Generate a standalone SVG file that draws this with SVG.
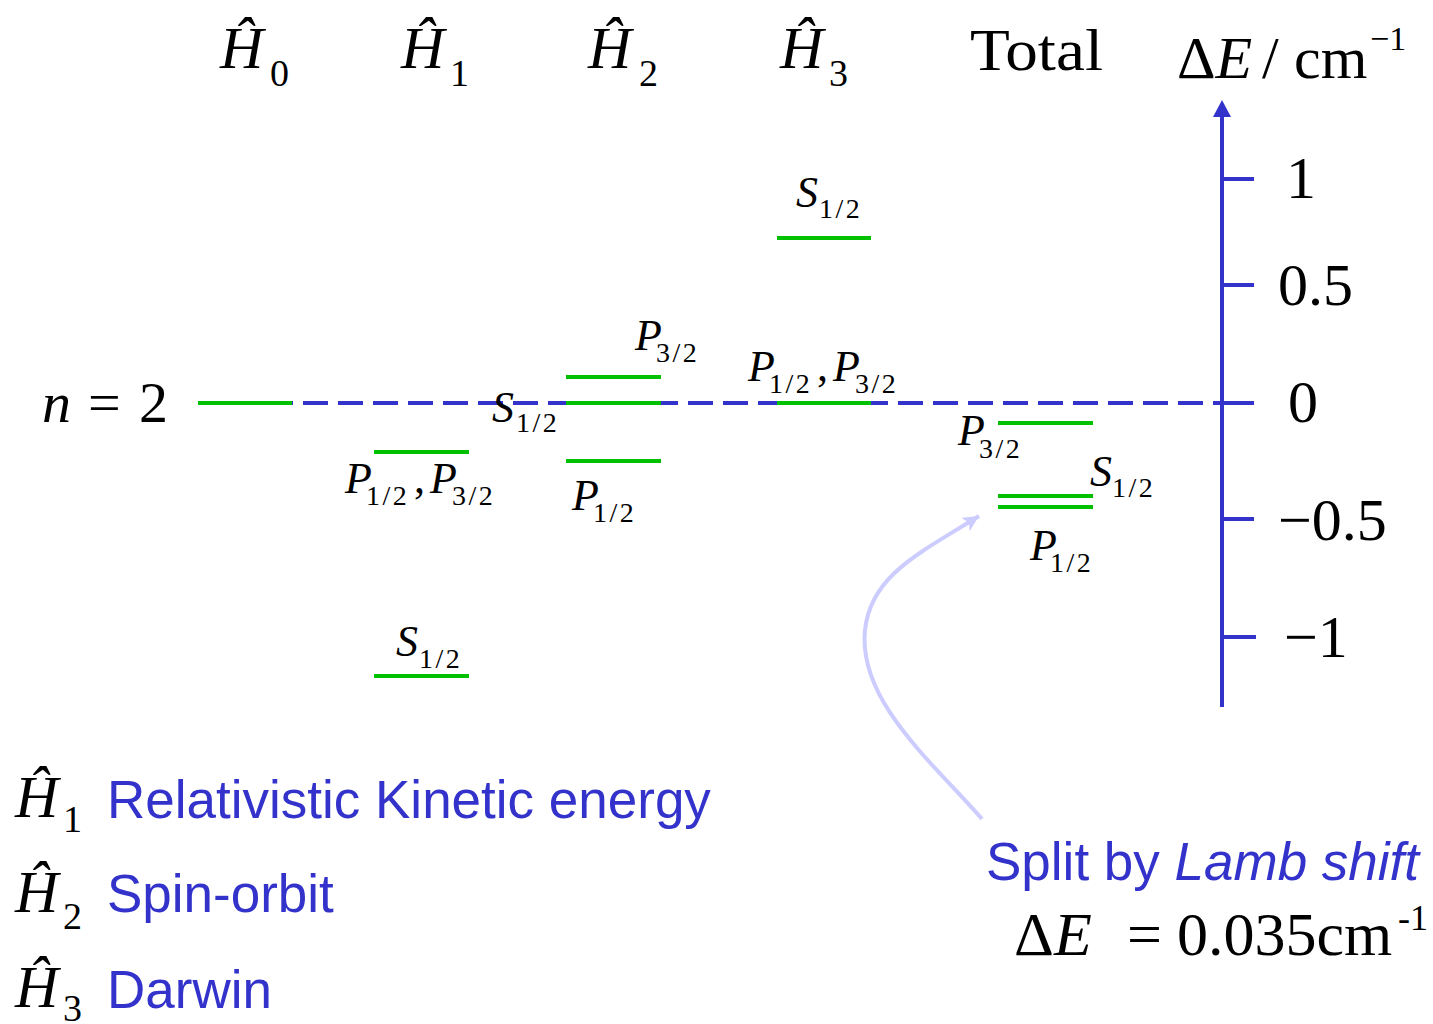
<svg xmlns="http://www.w3.org/2000/svg" width="1433" height="1024" viewBox="0 0 1433 1024">
<style>
.serif{font-family:"Liberation Serif","Times New Roman",serif;fill:#000}
.it{font-style:italic}
.hd{font-size:60px}
.sub{font-size:38px;font-style:normal}
.lv{font-family:"Liberation Serif","Times New Roman",serif;font-size:44px;fill:#000}
.ls{font-size:28px;font-style:normal;letter-spacing:2.5px}
.sans{font-family:"Liberation Sans",Arial,sans-serif;font-size:53px;fill:#3333cc}
.lev{stroke:#00c000;stroke-width:4;fill:none}
.ax{stroke:#3333cc;stroke-width:4;fill:none}
</style>
<defs>
<marker id="lamb" markerUnits="userSpaceOnUse" markerWidth="20" markerHeight="20" refX="16" refY="8" orient="auto">
<path d="M0,0 L16,8 L0,16 L4,8 Z" fill="#ccccff"/>
</marker>
</defs>
<rect width="1433" height="1024" fill="#fff"/>

<g id="headers" class="serif hd">
<text x="220" y="68"><tspan class="it">Ĥ</tspan><tspan class="sub" x="270" y="86">0</tspan></text>
<text x="401" y="68"><tspan class="it">Ĥ</tspan><tspan class="sub" x="450" y="86">1</tspan></text>
<text x="588" y="68"><tspan class="it">Ĥ</tspan><tspan class="sub" x="639" y="86">2</tspan></text>
<text x="780" y="68"><tspan class="it">Ĥ</tspan><tspan class="sub" x="829" y="86">3</tspan></text>
<text x="970" y="70" textLength="133" lengthAdjust="spacingAndGlyphs">Total</text>
<text x="1177" y="78">Δ<tspan class="it">E</tspan><tspan x="1262">/</tspan><tspan x="1294">cm</tspan><tspan font-size="34" x="1370" y="50">−1</tspan></text>
</g>

<g id="axis">
<line class="ax" x1="1222" y1="114" x2="1222" y2="707"/>
<polygon points="1222,100 1213,117 1231,117" fill="#3333cc"/>
<line class="ax" x1="1222" y1="179" x2="1254" y2="179"/>
<line class="ax" x1="1222" y1="285" x2="1254" y2="285"/>
<line class="ax" x1="1222" y1="403" x2="1254" y2="403"/>
<line class="ax" x1="1222" y1="519" x2="1254" y2="519"/>
<line class="ax" x1="1222" y1="637" x2="1256" y2="637"/>
<g class="serif hd">
<text x="1286" y="198">1</text>
<text x="1278" y="305">0.5</text>
<text x="1288" y="422">0</text>
<text x="1278" y="540">−0.5</text>
<text x="1284" y="657">−1</text>
</g>
</g>

<g id="connectors">
<line x1="198" y1="403" x2="1222" y2="403" stroke="#3333cc" stroke-width="4" stroke-dasharray="25 10"/>
<path d="M982,819 C930,760 858,700 865,630 C871,575 920,553 979,516" fill="none" stroke="#ccccff" stroke-width="4" marker-end="url(#lamb)"/>
</g>

<g id="n2">
<text class="serif" font-size="58" x="42" y="422"><tspan class="it">n</tspan><tspan x="88">=</tspan><tspan x="139">2</tspan></text>
<line class="lev" x1="198" y1="403" x2="292" y2="403"/>
</g>

<g id="H1-levels">
<line class="lev" x1="374" y1="452" x2="469" y2="452"/>
<text class="lv" x="345" y="493"><tspan class="it">P</tspan><tspan class="ls" x="366" y="505">1/2</tspan><tspan x="414" y="493">,</tspan><tspan class="it" x="430">P</tspan><tspan class="ls" x="452" y="505">3/2</tspan></text>
<line class="lev" x1="374" y1="676" x2="469" y2="676"/>
<text class="lv" x="396" y="656"><tspan class="it">S</tspan><tspan class="ls" x="419" y="668">1/2</tspan></text>
</g>

<g id="H2-levels">
<line class="lev" x1="566" y1="377" x2="661" y2="377"/>
<line class="lev" x1="566" y1="403" x2="661" y2="403"/>
<line class="lev" x1="566" y1="461" x2="661" y2="461"/>
<text class="lv" x="635" y="350"><tspan class="it">P</tspan><tspan class="ls" x="656" y="362">3/2</tspan></text>
<text class="lv" x="492" y="422"><tspan class="it">S</tspan><tspan class="ls" x="516" y="432">1/2</tspan></text>
<text class="lv" x="572" y="510"><tspan class="it">P</tspan><tspan class="ls" x="593" y="522">1/2</tspan></text>
</g>

<g id="H3-levels">
<line class="lev" x1="777" y1="238" x2="871" y2="238"/>
<text class="lv" x="796" y="207"><tspan class="it">S</tspan><tspan class="ls" x="819" y="218">1/2</tspan></text>
<line class="lev" x1="777" y1="403" x2="871" y2="403"/>
<text class="lv" x="748" y="381"><tspan class="it">P</tspan><tspan class="ls" x="769" y="393">1/2</tspan><tspan x="817" y="381">,</tspan><tspan class="it" x="833">P</tspan><tspan class="ls" x="855" y="393">3/2</tspan></text>
</g>

<g id="Total-levels">
<line class="lev" x1="998" y1="423" x2="1093" y2="423"/>
<line class="lev" x1="998" y1="496" x2="1093" y2="496"/>
<line class="lev" x1="998" y1="507" x2="1093" y2="507"/>
<text class="lv" x="958" y="445"><tspan class="it">P</tspan><tspan class="ls" x="979" y="458">3/2</tspan></text>
<text class="lv" x="1090" y="486"><tspan class="it">S</tspan><tspan class="ls" x="1112" y="497">1/2</tspan></text>
<text class="lv" x="1030" y="560"><tspan class="it">P</tspan><tspan class="ls" x="1050" y="572">1/2</tspan></text>
</g>

<g id="legend">
<text class="serif hd" x="15" y="817"><tspan class="it">Ĥ</tspan><tspan class="sub" x="63" y="832">1</tspan></text>
<text class="sans" x="107" y="818">Relativistic Kinetic energy</text>
<text class="serif hd" x="15" y="912"><tspan class="it">Ĥ</tspan><tspan class="sub" x="63" y="929">2</tspan></text>
<text class="sans" x="107" y="912">Spin-orbit</text>
<text class="serif hd" x="15" y="1007"><tspan class="it">Ĥ</tspan><tspan class="sub" x="63" y="1021">3</tspan></text>
<text class="sans" x="107" y="1008">Darwin</text>
</g>

<g id="lamb-note">
<text class="sans" x="986" y="880">Split by <tspan font-style="italic">Lamb shift</tspan></text>
<text class="serif" font-size="62" x="1014" y="955">Δ<tspan class="it">E</tspan><tspan x="1127">=</tspan><tspan x="1177">0.035cm</tspan><tspan font-size="36" x="1398" y="930">-1</tspan></text>
</g>
</svg>
